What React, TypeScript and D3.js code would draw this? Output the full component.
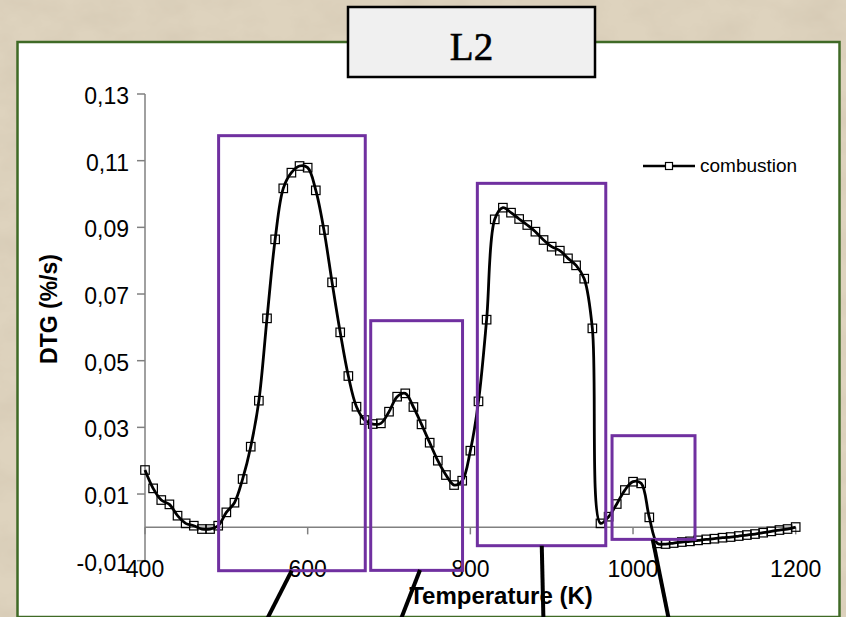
import React from "react";
import * as d3 from "d3";

// ---- data ----
const temperatures = [
  400, 410, 420, 430, 440, 450, 460, 470, 480, 490,
  500, 510, 520, 530, 540, 550, 560, 570, 580, 590,
  600, 610, 620, 630, 640, 650, 660, 670, 680, 690,
  700, 710, 720, 730, 740, 750, 760, 770, 780, 790,
  800, 810, 820, 830, 840, 850, 860, 870, 880, 890,
  900, 910, 920, 930, 940, 950, 960, 970, 980, 990,
  1000, 1010, 1020, 1030, 1040, 1050, 1060, 1070, 1080, 1090,
  1100, 1110, 1120, 1130, 1140, 1150, 1160, 1170, 1180, 1190,
  1200,
];
const combustion = [
  0.0172, 0.0117, 0.0082, 0.0069, 0.0035, 0.0012, 0.0005, -0.0005, -0.0005, 0.0005,
  0.0045, 0.0074, 0.0145, 0.0242, 0.038, 0.0627, 0.0864, 0.1017, 0.1064, 0.1084,
  0.1079, 0.1011, 0.0892, 0.0735, 0.0585, 0.0454, 0.0362, 0.0322, 0.031, 0.0312,
  0.0347, 0.0392, 0.0402, 0.0361, 0.0309, 0.0254, 0.02, 0.0157, 0.0127, 0.014,
  0.023, 0.0378, 0.0623, 0.0924, 0.0959, 0.0944, 0.0925, 0.0907, 0.0887, 0.0862,
  0.0842, 0.083, 0.0807, 0.0786, 0.0746, 0.0597, 0.0012, 0.0032, 0.007, 0.0112,
  0.0137, 0.0132, 0.003, -0.0048, -0.005, -0.0047, -0.0044, -0.0042, -0.0039, -0.0036,
  -0.0034, -0.0031, -0.0029, -0.0026, -0.0023, -0.002, -0.0016, -0.0012, -0.0008, -0.0005,
  0.0001,
];
const xTicks = [400, 600, 800, 1000, 1200];
const yTicks = [-0.01, 0.01, 0.03, 0.05, 0.07, 0.09, 0.11, 0.13];
const seriesName = "combustion";
const title = "L2";
const xTitle = "Temperature (K)";
const yTitle = "DTG (%/s)";

// highlight boxes in data units: [T0, T1, v0, v1]
const boxT0 = [490.5, 677.5, 808.6, 974.2];
const boxT1 = [670.8, 790.4, 966.5, 1076.2];
const boxTop = [0.1175, 0.062, 0.1032, 0.0275];
const boxBottom = [-0.013, -0.0129, -0.0055, -0.0036];
// callout lines in data units
const calloutT0 = [580.4, 738.1, 887.8, 1024.2];
const calloutV0 = [-0.013, -0.0128, -0.0055, -0.0036];
const calloutT1 = [546.3, 711.8, 890.0, 1045.4];
const calloutV1 = [-0.0293, -0.0293, -0.0293, -0.0293];

const W = 846;
const H = 617;

export default function App() {
  const x = d3.scaleLinear().domain([400, 1200]).range([145, 795.7]);
  const y = d3.scaleLinear().domain([-0.01, 0.13]).range([560.7, 94]);
  const pts = temperatures.map((t, i) => [t, combustion[i]] as [number, number]);
  const line = d3
    .line<[number, number]>()
    .x((d) => x(d[0]))
    .y((d) => y(d[1]))
    .curve(d3.curveCatmullRom.alpha(0.5));
  const fmt = (v: number) => d3.format(".2f")(v).replace(".", ",").replace("\u2212", "-");
  const axisColor = "#808080";
  const purple = "#7030a0";
  const ms = 8.5;

  return (
    <svg
      width={W}
      height={H}
      style={{ position: "absolute", left: 0, top: 0, display: "block" }}
      fontFamily="Arial, 'Liberation Sans', sans-serif"
    >
      <defs>
        <filter id="paper" x="0" y="0" width="100%" height="100%">
          <feTurbulence type="fractalNoise" baseFrequency="0.02 0.03" numOctaves="4" seed="7" />
          <feColorMatrix
            type="matrix"
            values="0 0 0 0 0.6  0 0 0 0 0.52  0 0 0 0 0.4  0.7 0 0 0 -0.25"
          />
        </filter>
        <clipPath id="frameClip">
          <rect x={0} y={0} width={W} height={H} />
        </clipPath>
      </defs>
      <rect x={0} y={0} width={W} height={H} fill="#ded3be" />
      <rect x={0} y={0} width={W} height={H} filter="url(#paper)" />

      {/* plot frame */}
      <rect x={17.5} y={42} width={822} height={575} fill="#ffffff" stroke="#3f6a26" strokeWidth={2.5} />

      {/* title box */}
      <rect x={348} y={7} width={247} height={70} fill="#f0f0f0" stroke="#000" strokeWidth={2.5} />
      <text
        x={471.5}
        y={60}
        textAnchor="middle"
        fontFamily="'Liberation Serif', 'Times New Roman', serif"
        fontSize={39}
        fill="#000"
        stroke="#000"
        strokeWidth={0.6}
      >
        {title}
      </text>

      {/* axes */}
      <line x1={x(400)} x2={x(400)} y1={y(0.13)} y2={y(-0.01)} stroke={axisColor} strokeWidth={1.5} />
      <line x1={x(400)} x2={x(1200)} y1={y(0)} y2={y(0)} stroke={axisColor} strokeWidth={1.5} />
      {yTicks.map((t) => (
        <g key={"yt" + t}>
          <line x1={x(400) - 8} x2={x(400)} y1={y(t)} y2={y(t)} stroke={axisColor} strokeWidth={1.5} />
          <text x={129} y={y(t) + 10} textAnchor="end" fontSize={23} fill="#000">
            {fmt(t)}
          </text>
        </g>
      ))}
      {xTicks.map((t) => (
        <g key={"xt" + t}>
          <line x1={x(t)} x2={x(t)} y1={y(0)} y2={y(0) + 7} stroke={axisColor} strokeWidth={1.5} />
          <text x={x(t)} y={577} textAnchor="middle" fontSize={23} fill="#000">
            {t}
          </text>
        </g>
      ))}
      <text x={501} y={604} textAnchor="middle" fontSize={24} fontWeight="bold" fill="#000">
        {xTitle}
      </text>
      <text
        transform={`translate(57,309) rotate(-90)`}
        textAnchor="middle"
        fontSize={23}
        fontWeight="bold"
        fill="#000"
      >
        {yTitle}
      </text>

      {/* series */}
      <path d={line(pts) || ""} fill="none" stroke="#000" strokeWidth={2.8} />
      {pts.map((d, i) => (
        <rect
          key={"m" + i}
          x={x(d[0]) - ms / 2}
          y={y(d[1]) - ms / 2}
          width={ms}
          height={ms}
          fill="none"
          stroke="#000"
          strokeWidth={1.2}
        />
      ))}

      {/* legend */}
      <line x1={643} x2={695} y1={166} y2={166} stroke="#000" strokeWidth={2.5} />
      <rect x={665.5} y={162.5} width={7} height={7} fill="#fff" stroke="#000" strokeWidth={1.2} />
      <text x={700} y={172} fontSize={19} fill="#000">
        {seriesName}
      </text>

      {/* highlight boxes */}
      {boxT0.map((t0, i) => (
        <rect
          key={"b" + i}
          x={x(t0)}
          y={y(boxTop[i])}
          width={x(boxT1[i]) - x(t0)}
          height={y(boxBottom[i]) - y(boxTop[i])}
          fill="none"
          stroke={purple}
          strokeWidth={3}
        />
      ))}
      {/* callout lines */}
      <g clipPath="url(#frameClip)">
        {calloutT0.map((t0, i) => (
          <line
            key={"c" + i}
            x1={x(t0)}
            y1={y(calloutV0[i])}
            x2={x(calloutT1[i])}
            y2={y(calloutV1[i])}
            stroke="#000"
            strokeWidth={4}
          />
        ))}
      </g>
    </svg>
  );
}
